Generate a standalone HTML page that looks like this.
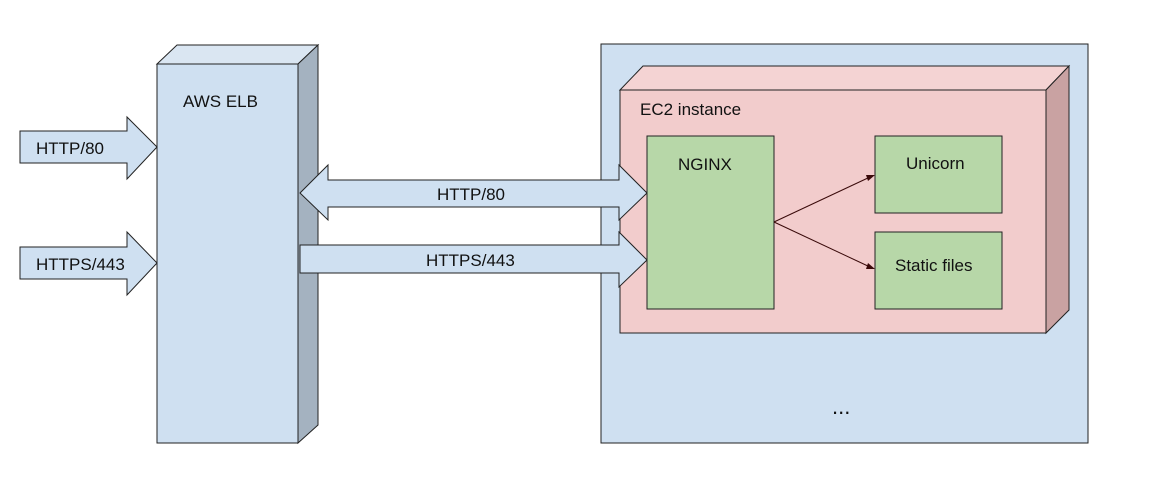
<!DOCTYPE html>
<html><head><style>
html,body{margin:0;padding:0;background:#fff;}
svg text{font-family:"Liberation Sans",Arial,sans-serif;fill:#111;}
</style></head><body>
<svg width="1161" height="493" viewBox="0 0 1161 493" xmlns="http://www.w3.org/2000/svg">
<rect width="1161" height="493" fill="#fff"/>
<g stroke="#222" stroke-width="1">
<!-- ELB -->
<polygon points="157,64 177,45 318,45 298,64" fill="#dae6f2"/>
<polygon points="298,64 318,45 318,425 298,443" fill="#a4b2c0"/>
<rect x="157" y="64" width="141" height="379" fill="#cfe0f1"/>
<!-- input arrows -->
<polygon points="20,131 127,131 127,117 157,147 127,179 127,163 20,163" fill="#cfe0f1"/>
<polygon points="20,247 127,247 127,232 157,263 127,295 127,279 20,279" fill="#cfe0f1"/>
<!-- outer box -->
<rect x="601" y="44" width="487" height="399" fill="#cfe0f1"/>
<!-- EC2 -->
<polygon points="620,90 643,66 1069,66 1046,90" fill="#f4d3d3"/>
<polygon points="1046,90 1069,66 1069,310 1046,333" fill="#c9a2a2"/>
<rect x="620" y="90" width="426" height="243" fill="#f2cccc"/>
<!-- connector arrows -->
<polygon points="300,193 328,165 328,180 619,180 619,165 647,193 619,220 619,207 328,207 328,220" fill="#cfe0f1"/>
<polygon points="300,245 619,245 619,232 647,260 619,287 619,273 300,273" fill="#cfe0f1"/>
<!-- boxes -->
<rect x="647" y="136" width="127" height="173" fill="#b7d7a8"/>
<rect x="875" y="136" width="127" height="77" fill="#b7d7a8"/>
<rect x="875" y="232" width="127" height="77" fill="#b7d7a8"/>
<line x1="774" y1="222" x2="870" y2="177" stroke="#3a0a0a"/>
<line x1="774" y1="222" x2="870" y2="267" stroke="#3a0a0a"/>
</g>
<polygon points="875,175 866,175 868,181" fill="#3a0a0a"/>
<polygon points="875,269 868,263 866,269" fill="#3a0a0a"/>
<g font-size="17">
<text x="183" y="107">AWS ELB</text>
<text x="36" y="154">HTTP/80</text>
<text x="36" y="270">HTTPS/443</text>
<text x="437" y="200">HTTP/80</text>
<text x="426" y="266">HTTPS/443</text>
<text x="640" y="115">EC2 instance</text>
<text x="678" y="170">NGINX</text>
<text x="906" y="169">Unicorn</text>
<text x="895" y="271">Static files</text>
<text x="832" y="414" font-size="22">...</text>
</g>
</svg>
</body></html>
